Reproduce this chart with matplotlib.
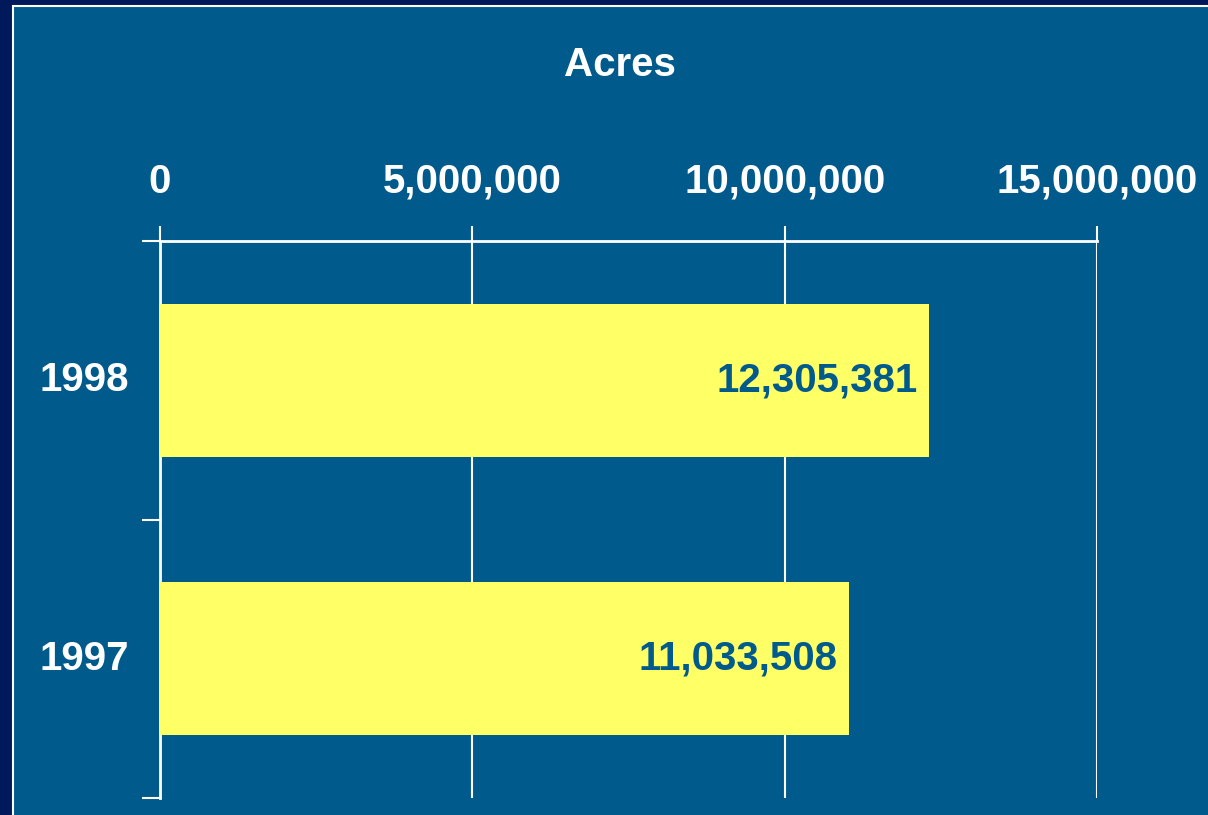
import matplotlib.pyplot as plt
from matplotlib.patches import Rectangle

years = ['1997', '1998']
acres = [11033508, 12305381]
value_labels = ['11,033,508', '12,305,381']
xticks = [0, 5000000, 10000000, 15000000]
xtick_labels = ['0', '5,000,000', '10,000,000', '15,000,000']

navy = '#00195A'
panel = '#005A8C'
bar_color = '#FFFF66'

plt.rcParams['font.family'] = ['Liberation Sans', 'DejaVu Sans']
fs = 29

W, H = 1208, 815
fig = plt.figure(figsize=(W / 100, H / 100), dpi=100, facecolor=navy)
fig.patches.append(Rectangle((12.5 / W, -0.01), 1.02, 1 - 6.5 / H + 0.01,
                             transform=fig.transFigure, facecolor=panel,
                             edgecolor='white', linewidth=1.5, zorder=-10))

ax = fig.add_axes([160 / W, 1 - 798 / H, (1097 - 160) / W, (798 - 241) / H])
ax.set_facecolor('none')

ypos = list(range(len(years)))
ax.barh(ypos, acres, height=0.55, color=bar_color, zorder=3)
for y, v, lab in zip(ypos, acres, value_labels):
    ax.text(v - 180000, y, lab, ha='right', va='center', color=panel,
            fontsize=fs, fontweight='bold', zorder=4)

ax.set_xlim(0, 15000000)
ax.set_ylim(-0.5, 1.5)
ax.xaxis.tick_top()
ax.set_xticks(xticks)
ax.set_xticklabels(xtick_labels, fontsize=fs, fontweight='bold', color='white')
ax.tick_params(axis='x', length=11, width=1.5, color='white', pad=18)
ax.set_yticks([-0.5, 0.5, 1.5])
ax.set_yticklabels([])
ax.tick_params(axis='y', length=13, width=1.5, color='white')
for y, lab in zip(ypos, years):
    ax.text(-0.033, y, lab, transform=ax.get_yaxis_transform(), ha='right',
            va='center', fontsize=fs, fontweight='bold', color='white')

ax.grid(axis='x', color='white', linewidth=1.5, zorder=1)
for side in ['right', 'bottom']:
    ax.spines[side].set_visible(False)
for side in ['left', 'top']:
    ax.spines[side].set_color('white')
    ax.spines[side].set_linewidth(2)

fig.text(620 / W, 1 - 65 / H, 'Acres', ha='center', va='center',
         fontsize=fs, fontweight='bold', color='white')

fig.savefig('out.png', dpi=100, facecolor=navy)
